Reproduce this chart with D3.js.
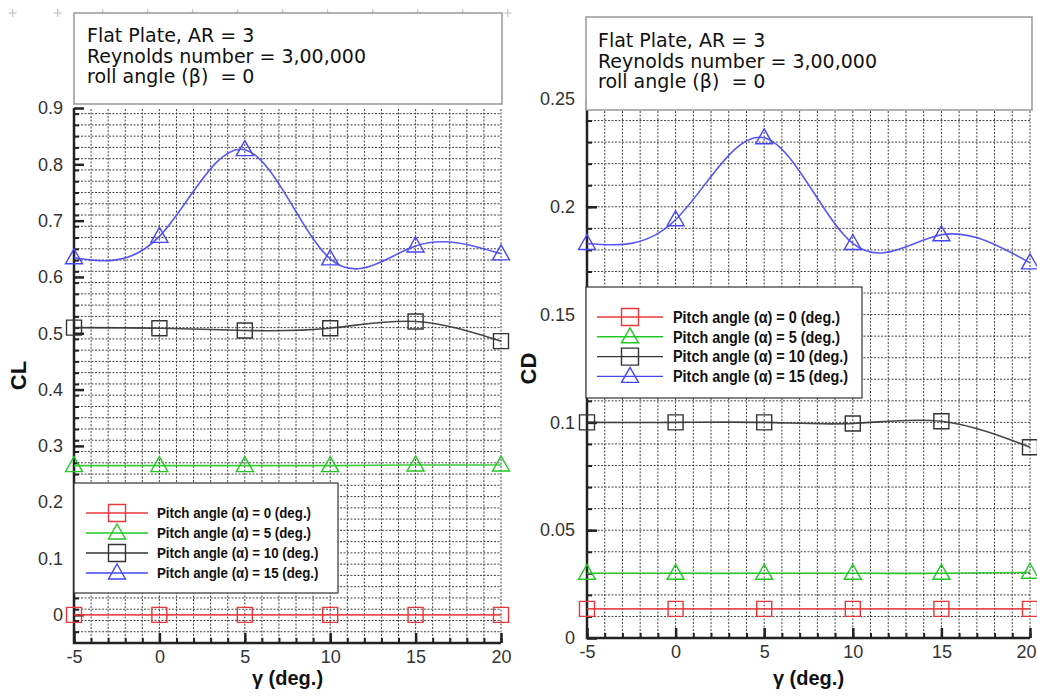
<!DOCTYPE html>
<html>
<head>
<meta charset="utf-8">
<script src="https://cdn.jsdelivr.net/npm/d3@7"></script>
<style>
  body { margin: 0; background: #fff; }
  svg { display: block; }
  text { white-space: pre; }
</style>
</head>
<body>
<div id="chart"></div>
<script>

// Data
var gammaDeg = [-5, 0, 5, 10, 15, 20];

var clAlpha0  = [0, 0, 0, 0, 0, 0];
var clAlpha5  = [0.265, 0.265, 0.265, 0.265, 0.266, 0.266];
var clAlpha10 = [0.510, 0.509, 0.505, 0.509, 0.521, 0.486];
var clAlpha15 = [0.634, 0.672, 0.826, 0.632, 0.655, 0.641];

var cdAlpha0  = [0.0135, 0.0135, 0.0135, 0.0135, 0.0135, 0.0135];
var cdAlpha5  = [0.0300, 0.0300, 0.0300, 0.0300, 0.0300, 0.0305];
var cdAlpha10 = [0.1000, 0.1000, 0.1000, 0.0995, 0.1005, 0.0885];
var cdAlpha15 = [0.1830, 0.1940, 0.2320, 0.1830, 0.1870, 0.1740];

var seriesNames = [
  'Pitch angle (\u03b1) = 0 (deg.)',
  'Pitch angle (\u03b1) = 5 (deg.)',
  'Pitch angle (\u03b1) = 10 (deg.)',
  'Pitch angle (\u03b1) = 15 (deg.)'
];

var headerLines = ['Flat Plate, AR = 3', 'Reynolds number = 3,00,000', 'roll angle (\u03b2)  = 0'];

var xTicks  = [-5, 0, 5, 10, 15, 20];
var clTicks = [0, 0.1, 0.2, 0.3, 0.4, 0.5, 0.6, 0.7, 0.8, 0.9];
var cdTicks = [0, 0.05, 0.1, 0.15, 0.2, 0.25];


var seriesColors  = ['#e8383a', '#22c822', '#333333', '#4646f5'];
var seriesMarkers = ['square', 'triangle', 'square', 'triangle'];

var svg = d3.select('#chart').append('svg')
    .attr('width', 1037)
    .attr('height', 696);

// faint frame crosses at the top-left
svg.append('g').selectAll('path')
  .data(d3.range(12))
  .enter().append('path')
    .attr('d', function(d){ var cx = 12.7 + 45 * d; return 'M'+(cx-4)+',13H'+(cx+4)+'M'+cx+',9V17'; })
    .attr('stroke', '#bbb')
    .attr('stroke-width', 1);

function markerPath(type, cx, cy, s) {
  if (type === 'square') {
    return 'M'+(cx-s/2)+','+(cy-s/2)+'h'+s+'v'+s+'h'+(-s)+'Z';
  }
  var h = s * 0.88;
  return 'M'+cx+','+(cy-h*0.6)+'L'+(cx+s/2)+','+(cy+h*0.4)+'L'+(cx-s/2)+','+(cy+h*0.4)+'Z';
}

function drawPanel(cfg) {

  var g = svg.append('g');

  var x = d3.scaleLinear().domain([-5, 20]).range([cfg.left, cfg.right]);
  var y = d3.scaleLinear().domain(cfg.yDomain).range([cfg.bottom, cfg.top]);

  // dotted grid
  var grid = g.append('g')
      .attr('stroke', '#444')
      .attr('stroke-width', 1)
      .attr('stroke-dasharray', '2,1.5');

  grid.selectAll('.vx')
    .data(d3.range(-4, 21, 1))
    .enter().append('line')
      .attr('x1', function(d){ return x(d); })
      .attr('x2', function(d){ return x(d); })
      .attr('y1', cfg.bottom)
      .attr('y2', cfg.top);

  var nY = Math.round((cfg.yDomain[1] - cfg.yDomain[0]) / cfg.gridStep);
  var yGrid = d3.range(1, nY + 1).map(function(i){ return +(cfg.yDomain[0] + i * cfg.gridStep).toFixed(4); });

  grid.selectAll('.hy')
    .data(yGrid)
    .enter().append('line')
      .attr('x1', cfg.left)
      .attr('x2', cfg.right)
      .attr('y1', function(d){ return y(d); })
      .attr('y2', function(d){ return y(d); });

  // minor ticks
  g.append('g')
      .attr('transform', 'translate('+cfg.left+',0)')
      .call(d3.axisLeft(y).tickValues(yGrid).tickSize(-5).tickFormat(''))
      .call(function(s){ s.select('.domain').remove(); s.selectAll('line').attr('stroke', '#222').attr('stroke-width', 2); });

  g.append('g')
      .attr('transform', 'translate(0,'+cfg.bottom+')')
      .call(d3.axisBottom(x).tickValues(d3.range(-5, 21, 1)).tickSize(-5).tickFormat(''))
      .call(function(s){ s.select('.domain').remove(); s.selectAll('line').attr('stroke', '#222').attr('stroke-width', 2); });

  // major ticks and labels
  var yAxis = g.append('g')
      .attr('transform', 'translate('+cfg.left+',0)')
      .call(d3.axisLeft(y).tickValues(cfg.yTicks).tickSize(-10).tickPadding(cfg.yPad)
        .tickFormat(function(d){ return String(+d.toFixed(2)); }));

  var xAxis = g.append('g')
      .attr('transform', 'translate(0,'+cfg.bottom+')')
      .call(d3.axisBottom(x).tickValues(xTicks).tickSize(-10).tickPadding(7)
        .tickFormat(function(d){ return String(d); }));

  [yAxis, xAxis].forEach(function(a){
    a.select('.domain').remove();
    a.selectAll('line').attr('stroke', '#222').attr('stroke-width', 2.5);
    a.selectAll('text')
      .attr('font-family', 'Liberation Sans, Arial, sans-serif')
      .attr('font-size', 18)
      .attr('fill', '#333');
  });

  // the last x label sits against the page edge on the right panel
  if (cfg.right > 1020) {
    xAxis.selectAll('.tick:last-of-type text')
        .attr('text-anchor', 'end')
        .attr('x', 1036 - cfg.right);
  }

  // axis lines
  g.append('path')
      .attr('d', 'M'+cfg.left+','+cfg.top+'V'+cfg.bottom+'H'+cfg.right)
      .attr('fill', 'none')
      .attr('stroke', '#222')
      .attr('stroke-width', 2.5);

  // series
  var line = d3.line()
      .x(function(d){ return x(d[0]); })
      .y(function(d){ return y(d[1]); })
      .curve(d3.curveNatural);

  cfg.series.forEach(function(vals, i){
    var pts = gammaDeg.map(function(gv, j){ return [gv, vals[j]]; });

    g.append('path')
        .datum(pts)
        .attr('d', line)
        .attr('fill', 'none')
        .attr('stroke', seriesColors[i])
        .attr('stroke-width', 1.6)
        .attr('stroke-opacity', 0.9);

    g.append('g').selectAll('path')
      .data(pts)
      .enter().append('path')
        .attr('d', function(d){ return markerPath(seriesMarkers[i], x(d[0]), y(d[1]), seriesMarkers[i] === 'square' ? 15 : 17); })
        .attr('fill', 'none')
        .attr('stroke', seriesColors[i])
        .attr('stroke-width', 1.4);
  });

  // header box
  var h = cfg.header;
  g.append('rect')
      .attr('x', h.x).attr('y', h.y)
      .attr('width', h.w).attr('height', h.h)
      .attr('fill', '#fff')
      .attr('stroke', '#999')
      .attr('stroke-width', 1.5);

  g.append('g').selectAll('text')
    .data(headerLines)
    .enter().append('text')
      .attr('x', h.tx)
      .attr('y', function(d, i){ return h.ty + i * 20.7; })
      .attr('font-family', 'DejaVu Sans, Verdana, sans-serif')
      .attr('font-size', 19)
      .attr('fill', '#111')
      .text(function(d){ return d; });

  // legend
  var L = cfg.legend;
  g.append('rect')
      .attr('x', L.x).attr('y', L.y)
      .attr('width', L.w).attr('height', L.h)
      .attr('fill', '#fff')
      .attr('stroke', '#333')
      .attr('stroke-width', 1.2);

  var rows = g.append('g').selectAll('g')
    .data(seriesNames)
    .enter().append('g')
      .attr('transform', function(d, i){ return 'translate(0,'+(L.row0 + i * L.rowStep)+')'; });

  rows.append('line')
      .attr('x1', L.lx1).attr('x2', L.lx2)
      .attr('stroke', function(d, i){ return seriesColors[i]; })
      .attr('stroke-width', 1.4);

  rows.append('path')
      .attr('d', function(d, i){ return markerPath(seriesMarkers[i], (L.lx1 + L.lx2) / 2, 0, 17); })
      .attr('fill', 'none')
      .attr('stroke', function(d, i){ return seriesColors[i]; })
      .attr('stroke-width', 1.4);

  rows.append('text')
      .attr('x', L.tx)
      .attr('dy', '0.36em')
      .attr('font-family', 'Liberation Sans, Arial, sans-serif')
      .attr('font-weight', 'bold')
      .attr('font-size', L.fs)
      .attr('textLength', function(d, i){ return i < 2 ? L.tw : L.tw + L.fs * 0.5; })
      .attr('lengthAdjust', 'spacingAndGlyphs')
      .attr('fill', '#111')
      .text(function(d){ return d; });

  // axis titles
  g.append('text')
      .attr('transform', 'translate('+cfg.yTitleX+','+((cfg.top + cfg.bottom) / 2)+') rotate(-90)')
      .attr('text-anchor', 'middle')
      .attr('dy', '0.35em')
      .attr('font-family', 'Liberation Sans, Arial, sans-serif')
      .attr('font-weight', 'bold')
      .attr('font-size', 22)
      .attr('fill', '#111')
      .text(cfg.yTitle);

  g.append('text')
      .attr('x', (cfg.left + cfg.right) / 2)
      .attr('y', 685)
      .attr('text-anchor', 'middle')
      .attr('font-family', 'Liberation Sans, Arial, sans-serif')
      .attr('font-weight', 'bold')
      .attr('font-size', 20)
      .attr('fill', '#111')
      .text('\u03b3 (deg.)');
}

drawPanel({
  left: 74, right: 501, top: 108, bottom: 643,
  yDomain: [-0.05, 0.9], yTicks: clTicks, gridStep: 0.02, yPad: 11,
  series: [clAlpha0, clAlpha5, clAlpha10, clAlpha15],
  header: {x: 74, y: 13, w: 428, h: 91, tx: 87, ty: 42},
  legend: {x: 74, y: 483, w: 264, h: 110, row0: 513, rowStep: 20, lx1: 86, lx2: 148, tx: 157, fs: 15, tw: 154},
  yTitle: 'CL', yTitleX: 18
});

drawPanel({
  left: 587, right: 1030, top: 99, bottom: 638,
  yDomain: [0, 0.25], yTicks: cdTicks, gridStep: 0.01, yPad: 12,
  series: [cdAlpha0, cdAlpha5, cdAlpha10, cdAlpha15],
  header: {x: 586, y: 17, w: 446, h: 93, tx: 598, ty: 47},
  legend: {x: 586, y: 287, w: 276, h: 111, row0: 317, rowStep: 19.8, lx1: 597, lx2: 663, tx: 673, fs: 16, tw: 167},
  yTitle: 'CD', yTitleX: 528
});

</script>
</body>
</html>
